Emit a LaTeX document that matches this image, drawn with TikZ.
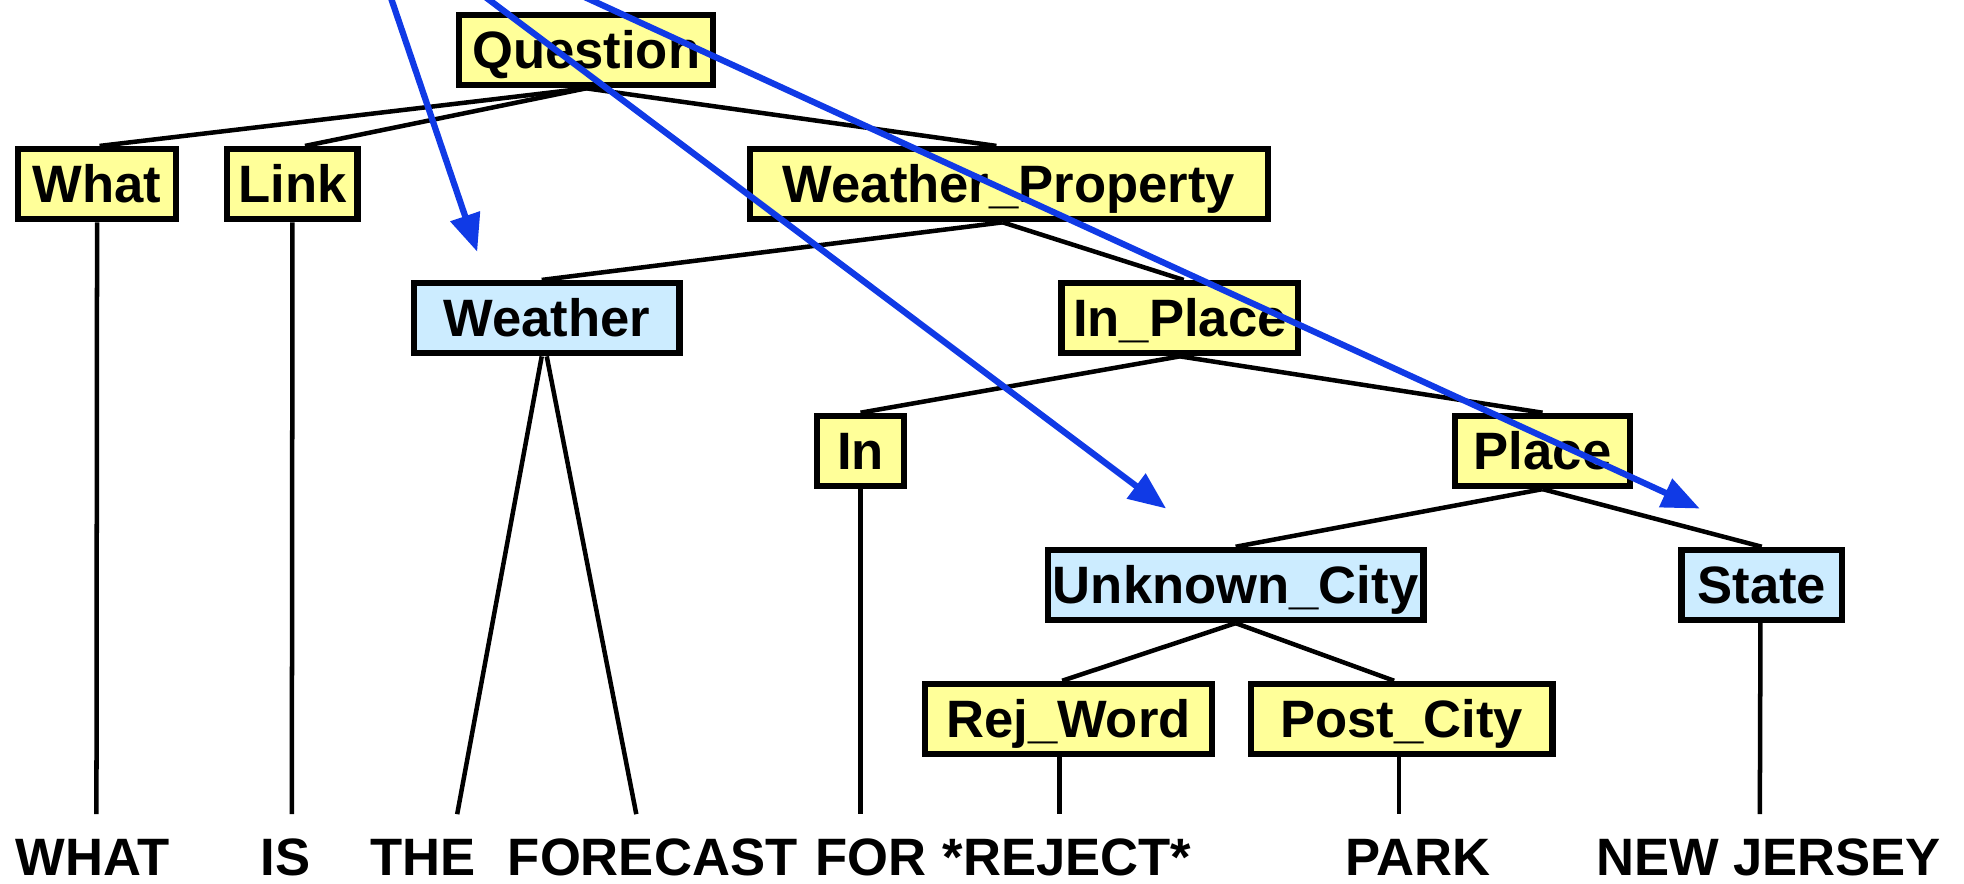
\documentclass[tikz,border=0pt]{standalone}
\usepackage{fontspec}
\setmainfont{Liberation Sans}
\usetikzlibrary{arrows.meta}
\definecolor{ybox}{RGB}{255,255,153}
\definecolor{bbox}{RGB}{204,236,255}
\definecolor{arrblue}{RGB}{16,58,230}
\begin{document}
\begin{tikzpicture}[x=1pt,y=-1pt,
  every node/.style={font=\fontsize{42}{48}\selectfont\bfseries},
  nt/.style={draw=black,line width=5pt,fill=ybox,minimum height=56pt,inner sep=0pt,text height=30pt,text depth=0pt},
  lt/.style={nt,fill=bbox},
  wd/.style={inner sep=0pt,anchor=base},
  edge/.style={line width=3.6pt,black},
  blue arrow/.style={line width=5pt,arrblue,-{Triangle[length=30pt,width=24pt]}}]
\useasboundingbox (0,0) rectangle (1568,705);
% nonterminals
\node[nt,minimum width=203pt] (Q) at (468,40) {Question};
\node[nt,minimum width=126pt] (What) at (77.5,147) {What};
\node[nt,minimum width=104pt] (Link) at (233.5,147) {Link};
\node[nt,minimum width=414pt] (WP) at (805.5,147) {Weather\_Property};
\node[lt,minimum width=212pt] (Weather) at (436.5,254) {Weather};
\node[nt,minimum width=189pt] (InPlace) at (942,254) {In\_Place};
\node[nt,minimum width=69pt] (In) at (687,360) {In};
\node[nt,minimum width=140pt] (Place) at (1231.5,360) {Place};
\node[lt,minimum width=300pt] (UC) at (986.5,467) {Unknown\_City};
\node[lt,minimum width=128pt] (State) at (1406.5,467) {State};
\node[nt,minimum width=229pt] (RW) at (853,574) {Rej\_Word};
\node[nt,minimum width=241pt] (PC) at (1119,574) {Post\_City};
% words
\node[wd] (wWHAT) at (74,699) {WHAT};
\node[wd] (wIS) at (228,699) {IS};
\node[wd] (wTHE) at (338,699) {THE};
\node[wd] (wFORECAST) at (521,699) {FORECAST};
\node[wd] (wFOR) at (695,699) {FOR};
\node[wd] (wREJ) at (852,699) {*REJECT*};
\node[wd] (wPARK) at (1132,699) {PARK};
\node[wd] (wNJ) at (1412,699) {NEW JERSEY};
% leaf line ends
\coordinate (eWHAT) at (77,650);
\coordinate (eIS) at (233,650);
\coordinate (eTHE) at (365,650);
\coordinate (eFORECAST) at (508,650);
\coordinate (eFOR) at (687,650);
\coordinate (eREJ) at (846,650);
\coordinate (ePARK) at (1117,650);
\coordinate (eNJ) at (1405,650);
% tree edges
\draw[edge] (Q.south) -- ([xshift=2pt]What.north);
\draw[edge] (Q.south) -- ([xshift=10pt]Link.north);
\draw[edge] (Q.south) -- ([xshift=-10pt]WP.north);
\draw[edge] ([xshift=-5pt]WP.south) -- ([xshift=-4pt]Weather.north);
\draw[edge] ([xshift=-5pt]WP.south) -- ([xshift=3pt]InPlace.north);
\draw[edge] (InPlace.south) -- (In.north);
\draw[edge] (InPlace.south) -- (Place.north);
\draw[edge] (Place.south) -- (UC.north);
\draw[edge] (Place.south) -- (State.north);
\draw[edge] (UC.south) -- ([xshift=-5pt]RW.north);
\draw[edge] (UC.south) -- ([xshift=-6pt]PC.north);
% leaf edges
\draw[edge] (What.south) -- (eWHAT);
\draw[edge] (Link.south) -- (eIS);
\draw[edge] ([xshift=-4pt]Weather.south) -- (eTHE);
\draw[edge] (Weather.south) -- (eFORECAST);
\draw[edge] (In.south) -- (eFOR);
\draw[edge] ([xshift=-7pt]RW.south) -- (eREJ);
\draw[edge] ([xshift=-2pt]PC.south) -- (ePARK);
\draw[edge] ([xshift=-1pt]State.south) -- (eNJ);
% blue arrows
\coordinate (a1s) at (311,-5);
\coordinate (a1e) at (381,201);
\coordinate (a2s) at (384,-5);
\coordinate (a2e) at (931,406);
\coordinate (a3s) at (461,-5);
\coordinate (a3e) at (1357,406);
\draw[blue arrow] (a1s) -- (a1e);
\draw[blue arrow] (a2s) -- (a2e);
\draw[blue arrow] (a3s) -- (a3e);
\end{tikzpicture}
\end{document}
